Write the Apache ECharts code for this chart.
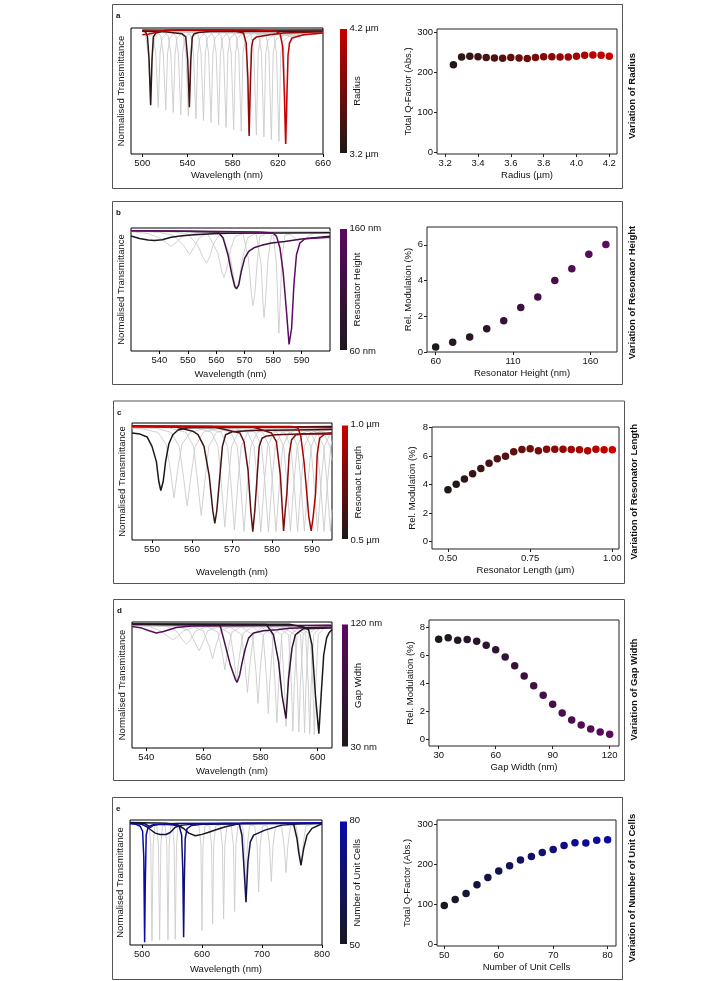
<!DOCTYPE html>
<html><head><meta charset="utf-8">
<script src="https://cdn.jsdelivr.net/npm/echarts@6/dist/echarts.min.js"></script>
<style>html,body{margin:0;padding:0;background:#fff}#c{width:707px;height:981px}</style>
</head><body><div id="c"></div>
<script>
// ================= DATA =================
// --- panel a : radius ---
const aTicks = [500, 540, 580, 620, 660];
const aParams = [3.3, 3.45, 3.9, 4.2];
const aCurves = [
 [500,.979, 503,.968, 504.6,.93, 506,.75, 507.4,.387, 508.6,.75, 509.8,.93, 512,.96, 520,.982, 660,.985],
 [500,.975, 520,.97, 535,.955, 538.5,.93, 540.2,.75, 541.7,.371, 543,.75, 544.3,.93, 546,.955, 550,.965, 560,.972, 660,.975],
 [500,.985, 580,.98, 589.6,.96, 592,.88, 593.5,.6, 594.6,.143, 595.7,.55, 596.8,.85, 598,.905, 601,.928, 613,.947, 625,.96, 660,.97],
 [500,.947, 505,.95, 510,.96, 515,.975, 530,.985, 600,.985, 618,.975, 622,.955, 624.3,.85, 625.7,.5, 626.9,.08, 628,.45, 629,.78, 630.3,.88, 632.5,.92, 643,.947, 660,.96]
];
const aGray = [
 [500,.975, 502.9,.94, 505.2,.8, 507.4,.39, 509,.8, 510.9,.92, 515.4,.965, 660,.975],
 [500,.978, 505.1,.972, 509.6,.94, 511.9,.8, 514.1,.37, 515.7,.8, 517.6,.92, 522.1,.965, 660,.972],
 [500,.978, 511.8,.972, 516.3,.94, 518.6,.8, 520.8,.35, 522.4,.8, 524.3,.92, 528.8,.965, 660,.972],
 [500,.978, 518.4,.972, 522.9,.94, 525.2,.8, 527.4,.33, 529,.8, 530.9,.92, 535.4,.965, 660,.972],
 [500,.978, 525.1,.972, 529.6,.94, 531.9,.8, 534.1,.31, 535.7,.8, 537.6,.92, 542.1,.965, 660,.97],
 [500,.978, 531.8,.972, 536.3,.94, 538.6,.8, 540.8,.3, 542.4,.8, 544.3,.92, 548.8,.965, 660,.97],
 [500,.978, 538.5,.972, 543,.94, 545.3,.8, 547.5,.28, 549.1,.8, 551,.92, 555.5,.963, 660,.968],
 [500,.978, 545.2,.972, 549.7,.94, 552,.8, 554.2,.265, 555.8,.8, 557.7,.92, 562.2,.963, 660,.968],
 [500,.978, 551.9,.972, 556.4,.94, 558.7,.8, 560.9,.25, 562.5,.8, 564.4,.92, 568.9,.962, 660,.966],
 [500,.978, 558.6,.972, 563.1,.94, 565.4,.8, 567.6,.23, 569.2,.8, 571.1,.92, 575.6,.96, 660,.966],
 [500,.978, 565.2,.972, 569.7,.94, 572,.8, 574.2,.21, 575.8,.8, 577.7,.92, 582.2,.958, 660,.965],
 [500,.978, 571.9,.972, 576.4,.94, 578.7,.8, 580.9,.195, 582.5,.8, 584.4,.92, 588.9,.956, 660,.964],
 [500,.978, 578.6,.972, 583.1,.94, 585.4,.8, 587.6,.18, 589.2,.8, 591.1,.91, 595.6,.952, 660,.962],
 [500,.978, 585.3,.972, 589.8,.94, 592.1,.8, 594.3,.165, 595.9,.8, 597.8,.91, 602.3,.95, 660,.962],
 [500,.978, 592,.972, 596.5,.94, 598.8,.8, 601,.15, 602.6,.8, 604.5,.91, 609,.948, 660,.96],
 [500,.978, 598.7,.972, 603.2,.94, 605.5,.8, 607.7,.135, 609.3,.8, 611.2,.9, 615.7,.943, 660,.96],
 [500,.978, 605.3,.972, 609.8,.94, 612.1,.8, 614.3,.115, 615.9,.8, 617.8,.9, 622.3,.938, 660,.958],
 [500,.978, 612,.972, 616.5,.94, 618.8,.8, 621,.1, 622.6,.8, 624.5,.89, 629,.932, 660,.958],
 [500,.978, 618.7,.972, 623.2,.94, 625.5,.8, 627.7,.08, 629.3,.8, 631.2,.89, 635.7,.93, 645,.948, 660,.958]
];
const radiusVals = [3.25,3.30,3.35,3.40,3.45,3.50,3.55,3.60,3.65,3.70,3.75,3.80,3.85,3.90,3.95,4.00,4.05,4.10,4.15,4.20];
const radiusQ = [219,238.5,240,239,237,236,235,237,236,234.5,237,239,239,238.5,238,240,242.5,243.5,242.5,240];
const aScTicksX = [3.2,3.4,3.6,3.8,4.0,4.2];
const aScTicksY = [0,100,200,300];

// --- panel b : resonator height ---
const bTicks = [540, 550, 560, 570, 580, 590];
const bParams = [60, 115, 170];
const bCurves = [
 [530,.935, 533,.915, 536,.902, 538.2,.899, 541,.905, 544.1,.924, 548,.937, 552.4,.946, 561.8,.957, 600,.962],
 [530,.978, 545,.975, 560.6,.967, 562.4,.918, 564.1,.783, 565.5,.62, 566.5,.524, 567.1,.505, 567.9,.538, 568.8,.647, 570,.755, 571.4,.81, 573.5,.842, 575.9,.859, 579.4,.878, 584.1,.891, 590,.91, 600,.932],
 [530,.978, 540,.975, 560,.972, 575,.968, 580,.959, 581.2,.932, 582.4,.837, 583.5,.647, 584.7,.321, 585.6,.054, 586.5,.185, 587.3,.538, 588.2,.783, 589.4,.878, 591.2,.913, 600,.924]
];
const bGray = [
 [530,.97, 536,.955, 540,.92, 542.5,.88, 544.1,.851, 545.8,.88, 548,.93, 552,.955, 560,.965, 600,.97],
 [530,.975, 540,.965, 545,.94, 548.5,.86, 550.6,.783, 552.3,.85, 554,.92, 557,.955, 565,.968, 600,.972],
 [530,.975, 545,.968, 550,.95, 553.5,.86, 555.5,.75, 556.5,.715, 557.6,.76, 559,.87, 561,.94, 565,.96, 600,.97],
 [530,.975, 552,.968, 557,.95, 560.5,.8, 562,.64, 562.7,.598, 563.5,.65, 565,.82, 566.5,.93, 570,.96, 600,.97],
 [530,.975, 558,.968, 562.5,.93, 565,.75, 566.4,.56, 567.1,.51, 567.9,.56, 569.2,.75, 571,.92, 574,.958, 600,.968],
 [530,.978, 565,.97, 569.4,.955, 571.3,.75, 572.4,.45, 572.9,.37, 573.5,.45, 574.5,.75, 575.3,.93, 578,.96, 600,.97],
 [530,.978, 570,.97, 574,.955, 575.8,.7, 576.4,.4, 576.8,.272, 577.3,.4, 578.2,.75, 579.4,.94, 582,.96, 600,.97],
 [530,.978, 575,.97, 580,.955, 581.2,.7, 581.7,.35, 582,.144, 582.4,.35, 583.1,.75, 584.1,.94, 587,.96, 600,.97],
 [530,.978, 583,.97, 586.5,.94, 588.5,.9, 589.7,.877, 590.8,.9, 592.5,.94, 595,.958, 600,.965]
];
const heightVals = [60,71,82,93,104,115,126,137,148,159,170];
const heightMod = [0.28,0.54,0.84,1.30,1.75,2.49,3.08,4.01,4.66,5.48,6.02];
const bScTicksX = [60,110,160];
const bScTicksY = [0,2,4,6];

// --- panel c : resonator length ---
const cTicks = [550, 560, 570, 580, 590];
const cParams = [0.5, 0.6, 0.7, 0.8, 0.9, 1.0];
const cCurves = [
 [545,.915, 547,.905, 548.8,.88, 550,.8, 551.1,.67, 551.7,.5, 552.2,.423, 552.8,.5, 553.4,.67, 554.2,.82, 555.2,.9, 556.5,.94, 559,.96, 595,.97],
 [545,.97, 556,.965, 560.2,.93, 561.5,.9, 563,.8, 564.3,.55, 565.2,.25, 565.7,.143, 566.2,.25, 566.9,.52, 567.6,.8, 568.4,.9, 570,.925, 575,.935, 595,.945],
 [545,.975, 565,.97, 572,.914, 573,.84, 574,.6, 574.7,.25, 575.2,.071, 575.7,.25, 576.3,.55, 576.8,.8, 577.5,.87, 578.4,.886, 580.9,.9, 595,.915],
 [545,.973, 575,.968, 579.9,.914, 581.1,.84, 582.1,.55, 582.6,.25, 582.9,.077, 583.3,.25, 583.7,.39, 584.3,.73, 584.9,.857, 586,.9, 588,.906, 595,.906],
 [545,.972, 585,.97, 586.5,.957, 587.2,.886, 588,.67, 588.7,.4, 589.2,.2, 589.8,.077, 590.3,.2, 590.9,.4, 591.3,.73, 591.9,.871, 593.2,.906, 595,.914],
 [545,.968, 570,.966, 590,.963, 595,.96]
];
const cGray = [
 [545,.955, 547.5,.95, 551.5,.92, 553.5,.82, 554.5,.62, 555.5,.36, 556.5,.62, 557.5,.82, 559.5,.92, 563,.95, 595,.96],
 [545,.96, 551,.955, 554.8,.92, 556.8,.8, 557.8,.56, 558.8,.29, 559.8,.56, 560.8,.8, 562.8,.92, 566,.95, 595,.962],
 [545,.962, 554.5,.958, 558.5,.92, 560.4,.8, 561.4,.5, 562.3,.21, 563.2,.5, 564.2,.8, 566.1,.92, 569.5,.95, 595,.962],
 [545,.965, 561,.96, 564.9,.92, 566.5,.8, 567.3,.5, 568.2,.11, 569.1,.5, 569.9,.8, 571.5,.92, 575,.95, 595,.962],
 [545,.965, 563.5,.96, 567.3,.92, 568.9,.8, 569.7,.5, 570.6,.085, 571.5,.5, 572.3,.8, 573.9,.92, 577.5,.95, 595,.962],
 [545,.965, 566,.96, 569.7,.92, 571.3,.8, 572.1,.5, 573,.075, 573.9,.5, 574.7,.8, 576.3,.92, 580,.95, 595,.962],
 [545,.965, 570,.96, 573.9,.92, 575.5,.8, 576.3,.5, 577.2,.07, 578.1,.5, 578.9,.8, 580.5,.92, 584,.95, 595,.962],
 [545,.965, 572,.96, 575.8,.92, 577.4,.8, 578.2,.5, 579.1,.07, 580,.5, 580.8,.8, 582.4,.92, 586,.95, 595,.962],
 [545,.965, 574,.96, 577.7,.92, 579.3,.8, 580.1,.5, 581,.072, 581.9,.5, 582.7,.8, 584.3,.92, 588,.95, 595,.962],
 [545,.965, 577.5,.96, 581.3,.92, 582.9,.8, 583.7,.5, 584.6,.075, 585.5,.5, 586.3,.8, 587.9,.92, 591.5,.95, 595,.958],
 [545,.965, 579.3,.96, 583.1,.92, 584.7,.8, 585.5,.5, 586.4,.075, 587.3,.5, 588.1,.8, 589.7,.92, 593.3,.95, 595,.955],
 [545,.965, 581,.96, 584.8,.92, 586.4,.8, 587.2,.5, 588.1,.075, 589,.5, 589.8,.8, 591.4,.92, 595,.948],
 [545,.965, 584.3,.96, 588.1,.92, 589.7,.8, 590.5,.5, 591.4,.075, 592.3,.5, 593.1,.8, 594.7,.92, 595,.925],
 [545,.965, 586,.96, 589.7,.92, 591.3,.8, 592.1,.5, 593,.075, 593.9,.5, 594.7,.8, 595,.85],
 [545,.965, 587.5,.96, 591.3,.92, 592.9,.8, 593.7,.5, 594.6,.075, 595,.26],
 [545,.965, 589,.96, 592.9,.92, 594.5,.8, 595,.68]
];
const lengthVals = [0.5,0.525,0.55,0.575,0.6,0.625,0.65,0.675,0.7,0.725,0.75,0.775,0.8,0.825,0.85,0.875,0.9,0.925,0.95,0.975,1.0];
const lengthMod = [3.64,4.01,4.38,4.76,5.13,5.50,5.81,5.99,6.30,6.46,6.51,6.37,6.48,6.48,6.48,6.46,6.44,6.37,6.48,6.44,6.44];
const cScTicksX = [0.5,0.75,1.0];
const cScTicksY = [0,2,4,6,8];

// --- panel d : gap width ---
const dTicks = [540, 560, 580, 600];
const dParams = [120, 90, 60, 30];
const dCurves = [
 [535,.965, 538,.955, 541,.93, 543.5,.912, 546,.925, 550.5,.957, 556,.968, 605,.975],
 [535,.98, 565.8,.975, 567.6,.82, 569.4,.66, 571.2,.543, 571.8,.521, 572.7,.58, 573.6,.686, 574.7,.792, 575.8,.872, 577.5,.912, 581,.93, 585.7,.939, 590,.95, 605,.96],
 [535,.984, 582,.98, 584.5,.899, 586.3,.686, 587.5,.42, 588.9,.234, 589.8,.553, 591,.793, 592.2,.899, 593.9,.93, 595.1,.947, 605,.952],
 [535,.985, 590,.982, 595,.96, 596.8,.939, 598,.819, 599.2,.42, 600.4,.114, 601.2,.42, 602.1,.739, 603.1,.872, 603.9,.912, 605,.94]
];
const dGray = [
 [535,.975, 541,.965, 545,.93, 547.5,.885, 549.3,.86, 551,.885, 553,.93, 557,.96, 605,.975],
 [535,.975, 547,.965, 550.5,.93, 552.6,.86, 554.1,.824, 555.5,.86, 557.3,.93, 561,.96, 605,.975],
 [535,.975, 551,.965, 555,.93, 557.2,.83, 558.5,.771, 559.7,.83, 561.5,.93, 565,.96, 605,.975],
 [535,.975, 556,.965, 560,.93, 562.1,.8, 563.2,.707, 564.2,.8, 566,.93, 569,.96, 605,.975],
 [535,.975, 561,.965, 565,.92, 566.6,.76, 567.5,.62, 568.4,.76, 570,.92, 573,.96, 605,.975],
 [535,.975, 565,.965, 569.3,.91, 570.8,.7, 571.6,.521, 572.4,.7, 573.9,.91, 577,.96, 605,.975],
 [535,.975, 569,.965, 573.3,.9, 574.6,.65, 575.4,.441, 576.2,.65, 577.5,.9, 580.5,.96, 605,.975],
 [535,.975, 573,.965, 577.2,.9, 578.4,.6, 579.1,.354, 579.8,.6, 581,.9, 584,.96, 605,.975],
 [535,.975, 577,.965, 580.9,.9, 582.1,.55, 582.7,.274, 583.3,.55, 584.5,.9, 587.5,.96, 605,.975],
 [535,.975, 580,.965, 584,.9, 585.1,.5, 585.7,.202, 586.3,.5, 587.4,.9, 590.5,.96, 605,.975],
 [535,.975, 583,.965, 587.3,.9, 588.3,.5, 588.9,.17, 589.5,.5, 590.5,.9, 593.5,.96, 605,.975],
 [535,.975, 585.5,.965, 589.8,.9, 590.8,.5, 591.3,.133, 591.8,.5, 592.8,.9, 595.5,.96, 605,.975],
 [535,.975, 587.5,.965, 592,.9, 592.9,.5, 593.4,.128, 593.9,.5, 594.9,.9, 597.5,.96, 605,.975],
 [535,.975, 589.5,.965, 594,.9, 594.9,.5, 595.4,.122, 595.9,.5, 596.8,.9, 599.5,.96, 605,.975],
 [535,.975, 591,.965, 595.8,.9, 596.7,.5, 597.2,.114, 597.7,.5, 598.6,.9, 601,.96, 605,.975],
 [535,.975, 593,.965, 597.4,.9, 598.3,.5, 598.8,.106, 599.3,.5, 600.2,.9, 602.5,.96, 605,.975]
];
const gapVals = [30,35,40,45,50,55,60,65,70,75,80,85,90,95,100,105,110,115,120];
const gapMod = [7.14,7.26,7.07,7.12,7.0,6.71,6.40,5.88,5.26,4.52,3.83,3.14,2.50,1.88,1.38,1.02,0.74,0.52,0.36];
const dScTicksX = [30,60,90,120];
const dScTicksY = [0,2,4,6,8];

// --- panel e : number of unit cells ---
const eTicks = [500, 600, 700, 800];
const eParams = [50, 60, 70, 80];
const eCurves = [
 [480,.98, 540,.975, 560,.96, 570,.93, 578,.895, 588.8,.874, 600,.885, 610,.9, 622,.92, 639,.946, 667,.975, 740,.975, 752.8,.965, 758.3,.85, 761.1,.745, 765,.638, 769.4,.77, 775,.879, 783.3,.933, 800,.97],
 [480,.975, 500,.965, 508,.946, 515,.92, 522,.895, 530,.884, 540,.884, 547,.9, 555,.94, 562,.955, 580,.965, 640,.972, 662,.97, 664,.96, 666.5,.88, 669.4,.665, 673.3,.343, 676.6,.665, 680.5,.825, 686,.879, 705,.919, 733,.959, 760,.968, 800,.972],
 [480,.975, 505,.97, 510,.955, 514,.94, 518,.955, 530,.965, 550,.962, 562,.95, 566,.88, 568,.6, 569.4,.062, 570.5,.5, 572,.85, 575,.93, 582,.955, 600,.965, 800,.975],
 [480,.97, 490,.965, 497,.95, 501,.91, 503,.7, 504.4,.022, 505.5,.5, 507,.88, 510,.94, 514,.955, 520,.965, 560,.972, 800,.978]
];
const eGray = [
 [480,.975, 505,.97, 512,.95, 514.6,.8, 516.6,.035, 518.6,.8, 521.2,.95, 528,.97, 800,.975],
 [480,.975, 518,.97, 524.8,.95, 527.4,.8, 529.4,.04, 531.4,.8, 534,.95, 541,.97, 800,.975],
 [480,.975, 532,.97, 538.7,.95, 541.3,.8, 543.3,.043, 545.3,.8, 547.9,.95, 555,.97, 800,.975],
 [480,.975, 544,.97, 550.9,.95, 553.5,.8, 555.5,.046, 557.5,.8, 560.1,.95, 567,.97, 800,.975],
 [480,.975, 586,.97, 595,.95, 598.2,.8, 599.9,.116, 601.6,.8, 604.8,.95, 614,.97, 800,.975],
 [480,.975, 604,.97, 612.7,.95, 615.9,.8, 617.7,.169, 619.5,.8, 622.7,.95, 632,.97, 800,.975],
 [480,.975, 621,.97, 630.5,.95, 634,.8, 636,.209, 638,.8, 641.5,.95, 651,.97, 800,.975],
 [480,.975, 639,.97, 648.9,.95, 652.3,.8, 654.4,.268, 656.5,.8, 659.9,.95, 670,.97, 800,.975],
 [480,.975, 657,.97, 667.5,.95, 671,.8, 673.3,.343, 675.6,.8, 679.1,.95, 690,.97, 800,.975],
 [480,.975, 677,.97, 688,.95, 691.8,.8, 694.4,.424, 697,.8, 700.8,.95, 712,.97, 800,.975],
 [480,.975, 697,.97, 708.5,.95, 712.6,.8, 715.5,.509, 718.4,.8, 722.5,.95, 734,.97, 800,.975],
 [480,.975, 720,.97, 732.5,.95, 736.8,.8, 740,.579, 743.2,.8, 747.5,.95, 760,.97, 800,.975],
 [480,.975, 744,.97, 757,.95, 761.5,.8, 765,.638, 768.5,.8, 773,.95, 786,.97, 800,.975]
];
const cellVals = [50,52,54,56,58,60,62,64,66,68,70,72,74,76,78,80];
const cellQ = [96.7,111.7,126.7,148.3,166.7,182.5,195.8,210,219.2,229.2,236.7,246.7,253.3,252.5,259.2,260.8];
const eScTicksX = [50,60,70,80];
const eScTicksY = [0,100,200,300];

// ================= STYLE / LAYOUT =================
const FONT = '"Liberation Sans", Arial, Helvetica, sans-serif';
const FS = 9.5;
const RED = ['#1c1818', '#c80000'], PUR = ['#1c181c', '#5c0a60'], BLU = ['#181820', '#0a0aa8'];

const panels = [
 {letter:'a', box:[112,4,510,184], title:'Variation of Radius', titleX:632.5,
  lg:{left:131,top:28,width:192,height:126,min:490,max:660,gap:16.5}, ticks:aTicks, gray:aGray, curves:aCurves, params:aParams, pmin:3.2, pmax:4.2, col:RED,
  cb:{x:340,y:29,w:7,h:124,top:'4.2 µm',bot:'3.2 µm',name:'Radius',nx:357},
  rg:{left:437,top:29,width:180,height:125,xmin:3.15,xmax:4.247,ymin:-3.2,ymax:308,xgap:16.5,ygap:24,dec:1},
  sx:radiusVals, sy:radiusQ, stx:aScTicksX, sty:aScTicksY, xname:'Radius (µm)', yname:'Total Q-Factor (Abs.)'},
 {letter:'b', box:[112,201,510,183], title:'Variation of Resonator Height', titleX:632.5,
  lg:{left:131,top:228,width:199,height:123,min:530,max:600,gap:18}, ticks:bTicks, gray:bGray, curves:bCurves, params:bParams, pmin:60, pmax:170, col:PUR,
  cb:{x:340,y:229,w:7,h:121,top:'160 nm',bot:'60 nm',name:'Resonator Height',nx:357},
  rg:{left:427,top:227,width:190,height:125,xmin:54.4,xmax:177.2,ymin:0,ymax:7,xgap:16,ygap:14,dec:0},
  sx:heightVals, sy:heightMod, stx:bScTicksX, sty:bScTicksY, xname:'Resonator Height (nm)', yname:'Rel. Modulation (%)'},
 {letter:'c', box:[113,400.5,511,182.5], title:'Variation of Resonator Length', titleX:634,
  lg:{left:132,top:423,width:200,height:117,min:545,max:595,gap:27}, ticks:cTicks, gray:cGray, curves:cCurves, params:cParams, pmin:0.5, pmax:1.0, col:RED,
  cb:{x:342,y:425.5,w:6,h:113.5,top:'1.0 µm',bot:'0.5 µm',name:'Resonaot Length',nx:358},
  rg:{left:432,top:427,width:187,height:122,xmin:0.4514,xmax:1.0203,ymin:-0.53,ymax:8.04,xgap:16,ygap:14.5,dec:2},
  sx:lengthVals, sy:lengthMod, stx:cScTicksX, sty:cScTicksY, xname:'Resonator Length (µm)', yname:'Rel. Modulation (%)'},
 {letter:'d', box:[113,599,511,181], title:'Variation of Gap Width', titleX:634,
  lg:{left:132,top:622,width:200,height:126,min:535,max:605,gap:18}, ticks:dTicks, gray:dGray, curves:dCurves, params:dParams, pmin:30, pmax:120, col:PUR,
  cb:{x:342,y:624.5,w:6,h:122,top:'120 nm',bot:'30 nm',name:'Gap Width',nx:358},
  rg:{left:429,top:620,width:190,height:126,xmin:24.9,xmax:124.9,ymin:-0.48,ymax:8.52,xgap:16,ygap:13.5,dec:0},
  sx:gapVals, sy:gapMod, stx:dScTicksX, sty:dScTicksY, xname:'Gap Width (nm)', yname:'Rel. Modulation (%)'},
 {letter:'e', box:[112,797,510,182], title:'Variation of Number of Unit Cells', titleX:632,
  lg:{left:130,top:820,width:192,height:125,min:480,max:800,gap:19}, ticks:eTicks, gray:eGray, curves:eCurves, params:eParams, pmin:50, pmax:80, col:BLU,
  cb:{x:340,y:821.5,w:7,h:122.5,top:'80',bot:'50',name:'Number of Unit Cells',nx:357},
  rg:{left:437,top:820,width:179,height:126,xmin:48.66,xmax:81.54,ymin:-4.25,ymax:310,xgap:16,ygap:25,dec:0},
  sx:cellVals, sy:cellQ, stx:eScTicksX, sty:eScTicksY, xname:'Number of Unit Cells', yname:'Total Q-Factor (Abs.)'}
];

function pairs(a){const r=[];for(let i=0;i<a.length;i+=2)r.push([a[i],a[i+1]]);return r;}
function rgb(h){return [parseInt(h.substr(1,2),16),parseInt(h.substr(3,2),16),parseInt(h.substr(5,2),16)];}
function mix(c,t){const a=rgb(c[0]),b=rgb(c[1]);t=Math.max(0,Math.min(1,t));
  return 'rgb('+a.map((v,i)=>Math.round(v+(b[i]-v)*t)).join(',')+')';}

const txt = {fontFamily:FONT, fontSize:FS, color:'#111'};
const grids=[], xAxes=[], yAxes=[], series=[], visualMaps=[], els=[];

function text(x,y,s,opt){
  const o = Object.assign({align:'center',va:'middle',rot:0,bold:false,size:FS},opt||{});
  els.push({type:'text', x:x, y:y, rotation:o.rot, silent:true, z:100,
    style:{text:s, fill:'#111', font:(o.bold?'bold ':'')+o.size+'px '+FONT,
      align:o.align, textAlign:o.align, verticalAlign:o.va, textVerticalAlign:o.va}});
}

panels.forEach((p,pi)=>{
  // ---- left spectrum plot ----
  const gi = grids.length;
  grids.push({left:p.lg.left, top:p.lg.top, width:p.lg.width, height:p.lg.height, show:true, borderColor:'#000', borderWidth:1, containLabel:false});
  xAxes.push({gridIndex:gi, type:'value', min:p.lg.min, max:p.lg.max,
    axisLine:{show:false, onZero:false}, splitLine:{show:false},
    axisTick:{show:true, inside:false, length:3, customValues:p.ticks, lineStyle:{color:'#000'}},
    axisLabel:{customValues:p.ticks, margin:4, fontFamily:FONT, fontSize:FS, color:'#111'},
    name:'Wavelength (nm)', nameLocation:'middle', nameGap:p.lg.gap, nameTextStyle:txt});
  yAxes.push({gridIndex:gi, type:'value', min:0, max:1,
    axisLine:{show:false, onZero:false}, axisTick:{show:false}, axisLabel:{show:false}, splitLine:{show:false},
    name:'Normalised Transmittance', nameLocation:'middle', nameGap:4.5, nameTextStyle:txt});
  p.gray.forEach(g=>series.push({type:'line', xAxisIndex:gi, yAxisIndex:gi, data:pairs(g), symbol:'none',
    smooth:false, silent:true, z:2, lineStyle:{color:'#cccccc', width:0.9}}));
  p.curves.forEach((c,ci)=>series.push({type:'line', xAxisIndex:gi, yAxisIndex:gi, data:pairs(c), symbol:'none',
    smooth:false, silent:true, z:3,
    lineStyle:{color:mix(p.col,(p.params[ci]-p.pmin)/(p.pmax-p.pmin)), width:1.5}}));

  // ---- right scatter plot ----
  const ri = grids.length;
  const r = p.rg;
  grids.push({left:r.left, top:r.top, width:r.width, height:r.height, show:true, borderColor:'#222', borderWidth:1});
  xAxes.push({gridIndex:ri, type:'value', min:r.xmin, max:r.xmax,
    axisLine:{show:false, onZero:false}, splitLine:{show:false},
    axisTick:{show:true, inside:false, length:3, customValues:p.stx, lineStyle:{color:'#222'}},
    axisLabel:{customValues:p.stx, margin:4, fontFamily:FONT, fontSize:FS, color:'#111', formatter:v=>Number(v).toFixed(r.dec)},
    name:p.xname, nameLocation:'middle', nameGap:r.xgap, nameTextStyle:txt});
  yAxes.push({gridIndex:ri, type:'value', min:r.ymin, max:r.ymax,
    axisLine:{show:false, onZero:false}, splitLine:{show:false},
    axisTick:{show:true, inside:false, length:3, customValues:p.sty, lineStyle:{color:'#222'}},
    axisLabel:{customValues:p.sty, margin:4, fontFamily:FONT, fontSize:FS, color:'#111'},
    name:p.yname, nameLocation:'middle', nameGap:r.ygap, nameTextStyle:txt});
  const si = series.length;
  series.push({type:'scatter', xAxisIndex:ri, yAxisIndex:ri, symbolSize:7.5, silent:true, z:5,
    itemStyle:{opacity:1}, data:p.sx.map((x,i)=>[x,p.sy[i]])});
  visualMaps.push({type:'continuous', show:false, seriesIndex:si, dimension:0, min:p.pmin, max:p.pmax,
    inRange:{color:p.col, opacity:1}});

  // ---- decorations ----
  const b=p.box;
  els.push({type:'rect', silent:true, z:0, shape:{x:b[0]+0.5,y:b[1]+0.5,width:b[2],height:b[3]},
    style:{fill:'none', stroke:'#555', lineWidth:1}});
  text(b[0]+4, b[1]+12, p.letter, {align:'left', bold:true, size:8});
  text(p.titleX, b[1]+b[3]/2, p.title, {rot:Math.PI/2, bold:true});
  const cb=p.cb;
  els.push({type:'rect', silent:true, z:10, shape:{x:cb.x,y:cb.y,width:cb.w,height:cb.h},
    style:{fill:{type:'linear',x:0,y:0,x2:0,y2:1,colorStops:[{offset:0,color:p.col[1]},{offset:1,color:p.col[0]}]}}});
  text(cb.x+cb.w+2.5, cb.y-1, cb.top, {align:'left'});
  text(cb.x+cb.w+2.5, cb.y+cb.h+1, cb.bot, {align:'left'});
  text(cb.nx, cb.y+cb.h/2, cb.name, {rot:Math.PI/2});
});

const chart = echarts.init(document.getElementById('c'), null, {renderer:'canvas'});
chart.setOption({animation:false, backgroundColor:'#fff', grid:grids, xAxis:xAxes, yAxis:yAxes,
  visualMap:visualMaps, series:series, graphic:{elements:els}});
</script></body></html>
